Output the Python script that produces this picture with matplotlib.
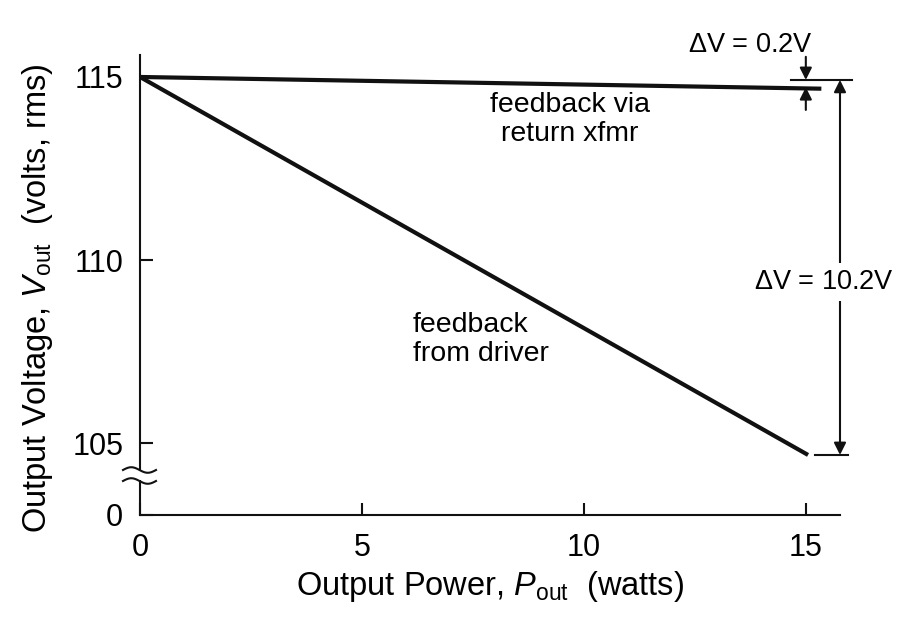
import numpy as np
import matplotlib
matplotlib.use("Agg")
import matplotlib.pyplot as plt

plt.rcParams['font.family'] = ['Liberation Sans', 'DejaVu Sans']
plt.rcParams['mathtext.fontset'] = 'custom'
plt.rcParams['mathtext.rm'] = 'Liberation Sans'
plt.rcParams['mathtext.it'] = 'Liberation Sans:italic'

# data
power = [0, 15.35]
v_return = [115.0, 114.68]      # feedback via return xfmr
power_drv = [0, 15.05]
v_driver = [115.0, 104.68]      # feedback from driver
xticks = [0, 5, 10, 15]
yticks = [103.04, 105, 110, 115]
ylabels = ["0", "105", "110", "115"]

fig = plt.figure(figsize=(9.13, 6.22), dpi=100)
ax = fig.add_axes([140/913, 1-515/622, 700/913, 460/622])
ax.set_xlim(0, 15.77)
ax.set_ylim(103.04, 115.6)

ax.plot(power, v_return, color='#111111', lw=3, solid_capstyle='butt')
ax.plot(power_drv, v_driver, color='#111111', lw=3, solid_capstyle='butt')

for s in ['top', 'right']:
    ax.spines[s].set_visible(False)
for s in ['left', 'bottom']:
    ax.spines[s].set_linewidth(1.5)
    ax.spines[s].set_color('#111111')

ax.set_xticks(xticks)
ax.set_xticklabels([str(t) for t in xticks])
ax.set_yticks(yticks)
ax.set_yticklabels(ylabels)
ax.tick_params(direction='in', length=9, width=1.5, labelsize=22, color='#111111')
ax.tick_params(axis='y', pad=12)
ax.tick_params(axis='x', pad=13)

ax.set_xlabel(r'Output Power, $P_{\rm out}$  (watts)', fontsize=23.5, labelpad=4)
ax.set_ylabel(r'Output Voltage, $V_{\rm out}$  (volts, rms)', fontsize=23.5)
ax.yaxis.set_label_coords(-0.121, 0.472)

# axis break marks
tr = ax.transAxes
ax.add_patch(plt.Rectangle((-0.01, 1-(470-55)/460 - 0.022), 0.02, 0.022, transform=tr,
                           facecolor='white', edgecolor='none', clip_on=False, zorder=5))
xs = np.linspace(-17/700, 16/700, 60)
for ypx in [470, 481]:
    yb = 1 - (ypx - 55) / 460
    ys = yb + 0.006 * np.sin((xs - xs[0]) / (xs[-1] - xs[0]) * 2 * np.pi)
    ax.plot(xs, ys, transform=tr, color='#111111', lw=1.5, clip_on=False, zorder=6)

# delta V annotations
ax.plot([14.67, 16.05], [115.0 - 0.08, 115.0 - 0.08], color='#111111', lw=1.5, clip_on=False)
ax.plot([15.2, 15.95], [104.68, 104.68], color='#111111', lw=1.5, clip_on=False)
arrow = dict(arrowstyle='-|>', color='#111111', lw=1.5, mutation_scale=18, shrinkA=0, shrinkB=0)
ax.annotate('', xy=(15.0, 114.92), xytext=(15.0, 115.55), arrowprops=arrow, annotation_clip=False)
ax.annotate('', xy=(15.0, 114.72), xytext=(15.0, 114.1), arrowprops=arrow, annotation_clip=False)
ax.annotate('', xy=(15.77, 114.92), xytext=(15.77, 110), arrowprops=arrow, annotation_clip=False)
ax.annotate('', xy=(15.77, 104.68), xytext=(15.77, 110), arrowprops=arrow, annotation_clip=False)

ax.text(13.76, 115.87, r'$\Delta$V = 0.2V', fontsize=19.5, ha='center', va='center',
        clip_on=False)
ax.text(15.4, 109.4, r'$\Delta$V = 10.2V', fontsize=19.5, ha='center', va='center',
        bbox=dict(facecolor='white', edgecolor='none', pad=4), clip_on=False, zorder=7)

ax.text(9.68, 113.83, 'feedback via\nreturn xfmr', fontsize=20.5, ha='center', va='center',
        linespacing=1.15)
ax.text(6.15, 107.82, 'feedback\nfrom driver', fontsize=20.5, ha='left', va='center',
        linespacing=1.15)

fig.savefig('out.png', dpi=100)
